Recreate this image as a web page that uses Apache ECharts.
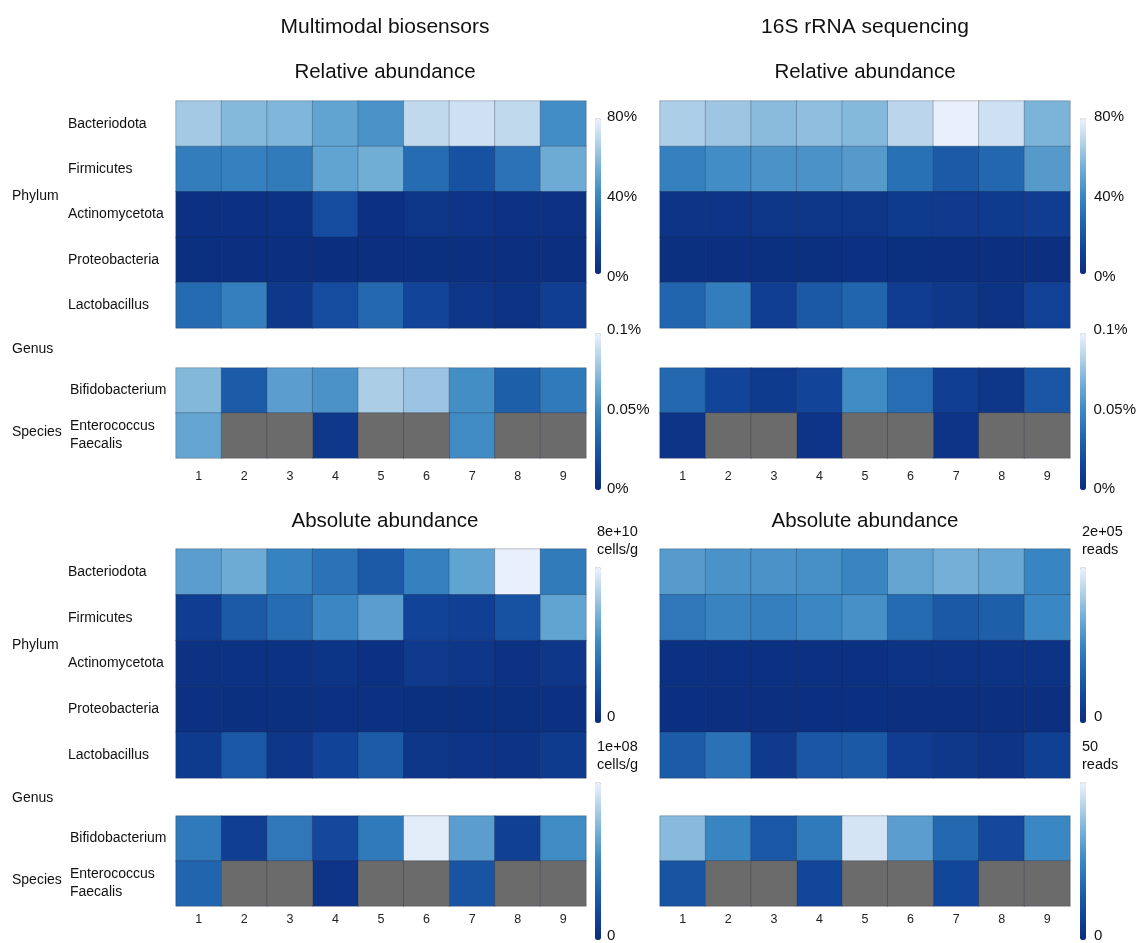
<!DOCTYPE html>
<html><head><meta charset="utf-8">
<script src="https://cdn.jsdelivr.net/npm/echarts@6/dist/echarts.min.js"></script>
<style>html,body{margin:0;padding:0;background:#fff}#c{width:1139px;height:943px}</style>
</head><body><div id="c"></div>
<script>
// ---------- data ----------
const samples = ['1','2','3','4','5','6','7','8','9'];
const topRows = ['Bacteriodota','Firmicutes','Actinomycetota','Proteobacteria','Lactobacillus'];
const lowRows = ['Bifidobacterium','Enterococcus\nFaecalis'];
const panelTitles = ['Multimodal biosensors','16S rRNA sequencing'];
const sectionTitles = ['Relative abundance','Absolute abundance'];
const groupLabels = ['Phylum','Genus','Species'];

// Relative abundance (%) - multimodal biosensors
const bioRelPhyla = [
  [64,58,57,50,44,70,73,70,42],
  [36,37,35,50,54,29,18,32,53],
  [2,2,2.5,16,2,5,4,3,3],
  [1.5,1,1,0.8,1,1.5,1.2,1,1.2]
];
const bioRelLacto  = [0.036,0.046,0.008,0.020,0.035,0.016,0.006,0.004,0.012];
const bioRelBifido = [0.072,0.028,0.060,0.055,0.082,0.078,0.053,0.030,0.043];
const bioRelEntero = [0.063,null,null,0.008,null,null,0.052,null,null];

// Relative abundance (%) - 16S rRNA sequencing
const seqRelPhyla = [
  [66,63,59,60,58,69,79,73,56],
  [37,42,44,44,47,31,22,27,47],
  [4,4,5,5,5,8,7,8,9],
  [1.5,1.2,1.5,1.5,2,1.5,1,1.2,1.2]
];
const seqRelLacto  = [0.033,0.045,0.012,0.027,0.033,0.011,0.008,0.004,0.014];
const seqRelBifido = [0.035,0.016,0.010,0.016,0.052,0.037,0.012,0.007,0.025];
const seqRelEntero = [0.005,null,null,0.005,null,null,0.005,null,null];

// Absolute abundance (cells/g) - multimodal biosensors
const bioAbsPhyla = [
  [4.8e10,5.3e10,3.8e10,3.2e10,2.2e10,3.7e10,5.0e10,7.9e10,3.5e10],
  [0.9e10,2.2e10,2.9e10,4.0e10,4.8e10,1.2e10,1.0e10,1.8e10,5.0e10],
  [0.3e10,0.25e10,0.25e10,0.45e10,0.2e10,0.7e10,0.55e10,0.3e10,0.55e10],
  [0.2e10,0.15e10,0.15e10,0.2e10,0.2e10,0.15e10,0.15e10,0.15e10,0.2e10]
];
const bioAbsLacto  = [10e6,26e6,7e6,15e6,28e6,7e6,5e6,4e6,10e6];
const bioAbsBifido = [43e6,12e6,42e6,18e6,43e6,97e6,60e6,13e6,52e6];
const bioAbsEntero = [33e6,null,null,5e6,null,null,24e6,null,null];

// Absolute abundance (reads) - 16S rRNA sequencing
const seqAbsPhyla = [
  [118e3,110e3,110e3,108e3,98e3,126e3,136e3,130e3,98e3],
  [84e3,96e3,92e3,100e3,108e3,72e3,54e3,60e3,100e3],
  [6e3,6e3,6e3,6e3,6e3,8e3,8e3,8e3,9e3],
  [4e3,3e3,3e3,4e3,4e3,3e3,3e3,3e3,3e3]
];
const seqAbsLacto  = [14,19.5,4.5,12.5,13.5,5.5,4,2.5,6.5];
const seqAbsBifido = [36.5,24.5,13,21.5,46.5,30,17.5,9,25];
const seqAbsEntero = [12,null,null,8.5,null,null,8.5,null,null];

// colour-bar scales
const relPhylaTicks = [0,40,80];
const relGenusTicks = [0,0.05,0.1];
const absMax   = [8e10, 1e8, 2e5, 50];
const absUnits = ['8e+10\ncells/g','1e+08\ncells/g','2e+05\nreads','50\nreads'];

// ---------- style / layout ----------
const FONT = "'Liberation Sans', Arial, Helvetica, sans-serif";
const TXT = '#111';
const palette = ['#0b2d7d','#12459b','#2166ae','#3b87c3','#6eacd5','#b0d0e8','#eef3fd'];
const NA_COLOR = '#6b6b6b';
const BORDER = 'rgba(30,40,60,0.28)';

const COLS = [
  {left:176, width:410, cbX:595, lblX:607, rowLbl:true},
  {left:660, width:410, cbX:1080, lblX:1094, rowLbl:false}
];
const ROWS = [
  {top:101, h:227, lowTop:368, lowH:90, xMargin:12, titleY:72,
   phylumY:196, genusY:349, speciesY:432,
   cbA:[118,274], axA:[117,277], cbB:[333,490], axB:[330,489]},
  {top:549, h:229, lowTop:816, lowH:90, xMargin:7, titleY:521,
   phylumY:645, genusY:798, speciesY:880,
   cbA:[567,723], axA:[567,717], cbB:[782,940], axB:[782,937]}
];

const relPhylaScale = {max:relPhylaTicks[2], interval:relPhylaTicks[1]-relPhylaTicks[0], rel:true};
const relGenusScale = {max:relGenusTicks[2], interval:relGenusTicks[1]-relGenusTicks[0], rel:true};
const panels = [
  {c:0,r:0,phyla:bioRelPhyla,lacto:bioRelLacto,bifido:bioRelBifido,entero:bioRelEntero,sA:relPhylaScale,sB:relGenusScale},
  {c:1,r:0,phyla:seqRelPhyla,lacto:seqRelLacto,bifido:seqRelBifido,entero:seqRelEntero,sA:relPhylaScale,sB:relGenusScale},
  {c:0,r:1,phyla:bioAbsPhyla,lacto:bioAbsLacto,bifido:bioAbsBifido,entero:bioAbsEntero,
   sA:{max:absMax[0],interval:absMax[0],rel:false,name:absUnits[0]},sB:{max:absMax[1],interval:absMax[1],rel:false,name:absUnits[1]}},
  {c:1,r:1,phyla:seqAbsPhyla,lacto:seqAbsLacto,bifido:seqAbsBifido,entero:seqAbsEntero,
   sA:{max:absMax[2],interval:absMax[2],rel:false,name:absUnits[2]},sB:{max:absMax[3],interval:absMax[3],rel:false,name:absUnits[3]}}
];

const grids=[], xAxes=[], yAxes=[], series=[], visualMaps=[], graphics=[];

function hidden(){return {show:false};}
function addCatGrid(left,top,width,height,yCats,showX,xMargin,showY,yMargin){
  grids.push({left:left, top:top, width:width, height:height});
  const gi = grids.length-1;
  xAxes.push({gridIndex:gi, type:'category', data:samples, axisLine:hidden(), axisTick:hidden(), splitLine:hidden(),
    axisLabel:{show:showX, margin:xMargin, fontSize:12.5, color:'#222', fontFamily:FONT}});
  yAxes.push({gridIndex:gi, type:'category', data:yCats, inverse:true, axisLine:hidden(), axisTick:hidden(), splitLine:hidden(),
    axisLabel:{show:showY, align:'left', margin:yMargin, fontSize:14, lineHeight:18, color:TXT, fontFamily:FONT}});
  return gi;
}
function heat(gi, data, color){
  const s = {type:'heatmap', xAxisIndex:gi, yAxisIndex:gi, data:data, progressive:0,
    itemStyle:{borderColor:BORDER, borderWidth:1}, emphasis:{disabled:true}, silent:true};
  if (color) s.itemStyle.color = color;
  series.push(s);
  return series.length-1;
}
function colorBar(seriesIdx, scale, col, cb, ax){
  visualMaps.push({type:'continuous', seriesIndex:seriesIdx, min:0, max:scale.max, calculable:false,
    orient:'vertical', left:col.cbX, top:cb[0], itemWidth:6, itemHeight:cb[1]-cb[0], padding:0,
    hoverLink:false, inRange:{color:palette}, outOfRange:{color:NA_COLOR}});
  grids.push({left:col.cbX+6, top:ax[0], width:1, height:ax[1]-ax[0]});
  const gi = grids.length-1;
  xAxes.push({gridIndex:gi, type:'value', show:false});
  const y = {gridIndex:gi, type:'value', position:'right', min:0, max:scale.max, interval:scale.interval,
    axisLine:hidden(), axisTick:hidden(), splitLine:hidden(),
    axisLabel:{margin:col.lblX-(col.cbX+7), fontSize:15, color:TXT, fontFamily:FONT,
      formatter: scale.rel ? (v => (v===0 ? '0' : String(+v.toFixed(4))) + '%') : (v => v===0 ? '0' : '')}};
  if (!scale.rel){
    y.name = scale.name; y.nameLocation = 'end'; y.nameGap = 8;
    y.nameTextStyle = {align:'left', verticalAlign:'bottom', fontSize:14.5, lineHeight:18, color:TXT, fontFamily:FONT,
      padding:[0,0,0,-4]};
  }
  yAxes.push(y);
}

panels.forEach(p=>{
  const col = COLS[p.c], row = ROWS[p.r];
  const gTop = addCatGrid(col.left,row.top,col.width,row.h,topRows,false,0,col.rowLbl,col.left-68);
  const phylaData=[];
  p.phyla.forEach((vals,ri)=>vals.forEach((v,ci)=>phylaData.push([ci,ri,v])));
  const sA = heat(gTop, phylaData);
  const sL = heat(gTop, p.lacto.map((v,ci)=>[ci,4,v]));
  const gLow = addCatGrid(col.left,row.lowTop,col.width,row.lowH,lowRows,true,row.xMargin,col.rowLbl,col.left-70);
  const lowData=[], naData=[];
  [p.bifido,p.entero].forEach((vals,ri)=>vals.forEach((v,ci)=>{
    if (v===null) naData.push([ci,ri,0]); else lowData.push([ci,ri,v]);
  }));
  const sB = heat(gLow, lowData);
  heat(gLow, naData, NA_COLOR);
  colorBar([sA], p.sA, col, row.cbA, row.axA);
  colorBar([sL,sB], p.sB, col, row.cbB, row.axB);
});

// titles & group labels
function txt(x,y,text,size,align){
  graphics.push({type:'text', x:x, y:y, silent:true,
    style:{text:text, fontSize:size, fontFamily:FONT, fill:TXT, align:align||'left', verticalAlign:'middle',
           textAlign:align||'left', textVerticalAlign:'middle'}});
}
COLS.forEach((col,ci)=>{
  const cx = col.left + col.width/2 + (ci===0 ? 4 : 0);
  txt(cx, 27, panelTitles[ci], 21, 'center');
  ROWS.forEach((row,ri)=>txt(cx, row.titleY, sectionTitles[ri], 20.5, 'center'));
});
ROWS.forEach(row=>{
  txt(12,row.phylumY,groupLabels[0],14);
  txt(12,row.genusY,groupLabels[1],14);
  txt(12,row.speciesY,groupLabels[2],14);
});

const chart = echarts.init(document.getElementById('c'), null, {renderer:'canvas'});
chart.setOption({
  animation:false, backgroundColor:'#fff',
  textStyle:{fontFamily:FONT},
  grid:grids, xAxis:xAxes, yAxis:yAxes, visualMap:visualMaps, series:series, graphic:graphics
});
</script></body></html>
